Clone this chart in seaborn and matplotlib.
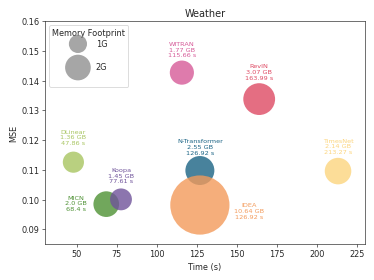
import numpy as np
import pandas as pd
import matplotlib.pyplot as plt
import seaborn as sns
from matplotlib.offsetbox import DrawingArea

models = ["DLinear", "MICN", "Koopa", "N-Transformer", "IDEA", "WITRAN", "RevIN", "TimesNet"]
times = [47.86, 68.4, 77.61, 126.92, 126.92, 115.66, 163.99, 213.27]
mse = [0.1126, 0.0985, 0.1001, 0.1098, 0.0982, 0.1427, 0.1338, 0.1096]
memory = [1.36, 2.0, 1.45, 2.55, 10.64, 1.77, 3.07, 2.14]
colors = ["#a8c561", "#4d9133", "#6f539a", "#1a6384", "#f39a5a", "#d65a98", "#de4a63", "#fcd57e"]

df = pd.DataFrame({"model": models, "time": times, "mse": mse, "mem": memory})
scale = 500
DPI = 374 / 6.4

# label placement: (dx in pixels, dy in data units, va)
label_pos = {
    "DLinear": (0, 0.0056, "bottom"),
    "MICN": (-30, 0.0003, "center"),
    "Koopa": (0, 0.0052, "bottom"),
    "N-Transformer": (0, 0.0052, "bottom"),
    "IDEA": (49, -0.0020, "center"),
    "WITRAN": (0, 0.0050, "bottom"),
    "RevIN": (0, 0.0064, "bottom"),
    "TimesNet": (0, 0.0056, "bottom"),
}

sns.set_style("ticks")
fig, ax = plt.subplots(figsize=(6.4, 4.8), dpi=DPI)

for i, row in df.iterrows():
    sns.scatterplot(x=[row["time"]], y=[row["mse"]], s=row["mem"] * scale,
                    color=colors[i], alpha=0.8, edgecolor="none", ax=ax, legend=False)
    dx, dy, va = label_pos[row["model"]]
    txt = f"{row['model']}\n{row['mem']} GB\n{row['time']} s"
    ax.annotate(txt, (row["time"], row["mse"] + dy), xytext=(dx * 72 / DPI, 0), textcoords="offset points",
                ha="center", va=va, fontsize=8, color=colors[i], linespacing=1.15)

# size legend
h1 = ax.scatter([], [], s=1 * scale, color="gray", alpha=0.7, edgecolor="none")
h2 = ax.scatter([], [], s=2 * scale, color="gray", alpha=0.7, edgecolor="none")
leg = ax.legend([h1, h2], ["1G", "2G"], title="Memory Footprint", loc="upper left",
                labelspacing=1.8, handletextpad=1.2)
leg._legend_box.sep = 2
leg._legend_box._children.append(DrawingArea(1, 13))

ax.set_xlim(30, 230)
ax.set_ylim(0.085, 0.16)
ax.set_xlabel("Time (s)")
ax.set_ylabel("MSE")
ax.set_title("Weather")
for s in ax.spines.values():
    s.set_visible(True)

plt.tight_layout()
plt.savefig("out.png", dpi=DPI)
